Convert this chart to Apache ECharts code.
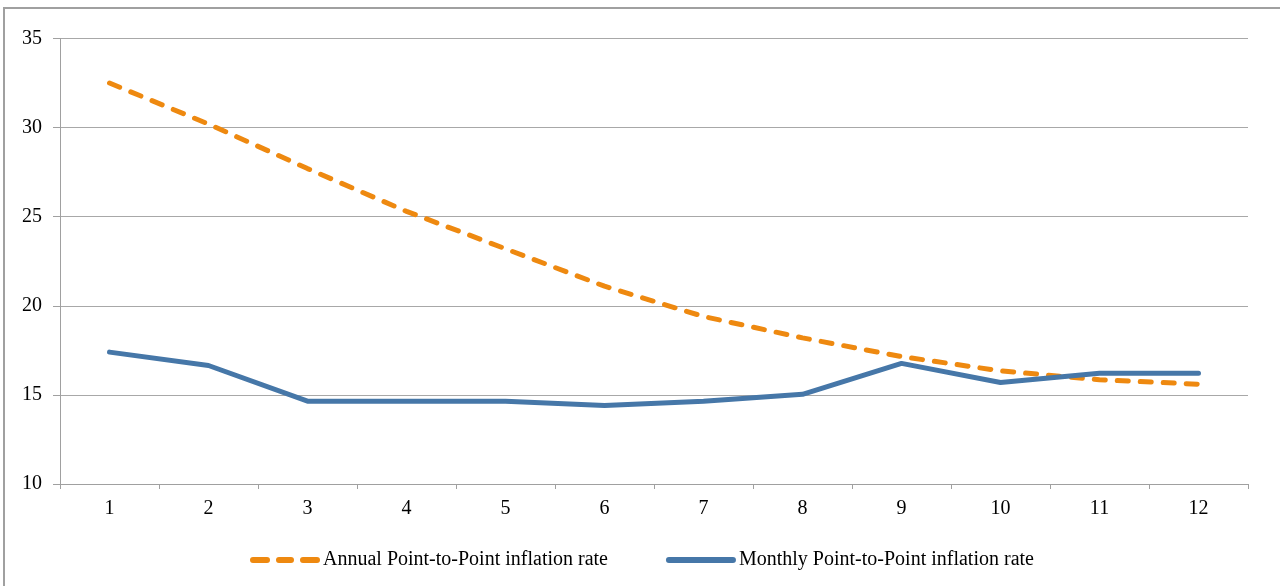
<!DOCTYPE html>
<html>
<head>
<meta charset="utf-8">
<script src="https://cdn.jsdelivr.net/npm/echarts@6/dist/echarts.min.js"></script>
<style>
html,body{margin:0;padding:0;background:#fff;}
#c{width:1280px;height:586px;}
</style>
</head>
<body>
<div id="c"></div>
<script>
const categories = ['1','2','3','4','5','6','7','8','9','10','11','12'];
const annualRate = [32.5, 30.2, 27.7, 25.3, 23.2, 21.1, 19.4, 18.2, 17.15, 16.35, 15.85, 15.6];
const monthlyRate = [17.4, 16.65, 14.65, 14.65, 14.65, 14.4, 14.65, 15.03, 16.77, 15.7, 16.22, 16.22];
const yTicks = {min: 10, max: 35, interval: 5};

const font = '"Liberation Serif", "Times New Roman", serif';
const dashIcon = 'path://M3,0h14a3,3 0 0 1 0,6h-14a3,3 0 0 1 0,-6z M29,0h12a3,3 0 0 1 0,6h-12a3,3 0 0 1 0,-6z M53,0h14a3,3 0 0 1 0,6h-14a3,3 0 0 1 0,-6z';
const solidIcon = 'path://M3,0h64a3,3 0 0 1 0,6h-64a3,3 0 0 1 0,-6z';
const chart = echarts.init(document.getElementById('c'), null, {renderer: 'canvas'});
chart.setOption({
  animation: false,
  backgroundColor: '#fff',
  textStyle: {fontFamily: font},
  graphic: [{
    type: 'rect',
    shape: {x: 4, y: 8, width: 1300, height: 620},
    style: {fill: 'none', stroke: '#a0a0a0', lineWidth: 2},
    silent: true, z: -1
  }],
  grid: {left: 60, right: 32, top: 38.5, bottom: 102, containLabel: false},
  legend: {
    left: 245, top: 545,
    itemWidth: 70, itemHeight: 6, itemGap: 58,
    textStyle: {fontFamily: font, fontSize: 20, color: '#000', padding: [0,0,0,-2]},
    data: [
      {name: 'Annual Point-to-Point inflation rate', icon: dashIcon, itemStyle: {color: '#EE8910'}},
      {name: 'Monthly Point-to-Point inflation rate', icon: solidIcon, itemStyle: {color: '#4677A8'}}
    ]
  },
  xAxis: {
    type: 'category',
    data: categories,
    boundaryGap: true,
    axisLine: {lineStyle: {color: '#a0a0a0', width: 1}},
    axisTick: {show: true, length: 5, lineStyle: {color: '#a0a0a0'}},
    axisLabel: {fontFamily: font, fontSize: 20, color: '#000', margin: 15}
  },
  yAxis: {
    type: 'value',
    min: yTicks.min, max: yTicks.max, interval: yTicks.interval,
    axisLine: {show: true, lineStyle: {color: '#a0a0a0', width: 1}},
    axisTick: {show: true, length: 7, lineStyle: {color: '#a0a0a0'}},
    splitLine: {show: true, lineStyle: {color: '#a8a8a8', width: 1}},
    axisLabel: {fontFamily: font, fontSize: 20, color: '#000', margin: 18}
  },
  series: [
    {
      name: 'Annual Point-to-Point inflation rate',
      type: 'line',
      data: annualRate,
      symbol: 'none',
      color: '#EE8910',
      lineStyle: {color: '#EE8910', width: 5, type: [11, 12], cap: 'round'}
    },
    {
      name: 'Monthly Point-to-Point inflation rate',
      type: 'line',
      data: monthlyRate,
      symbol: 'none',
      color: '#4677A8',
      lineStyle: {color: '#4677A8', width: 5, cap: 'round'}
    }
  ]
});
</script>
</body>
</html>
